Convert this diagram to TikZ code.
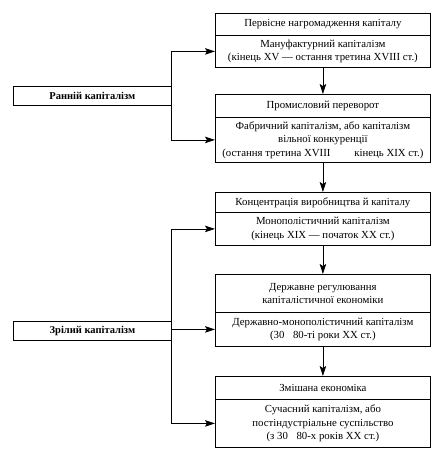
\documentclass[tikz,border=0pt]{standalone}
\usepackage{fontspec}
\setmainfont{Liberation Serif}
\usetikzlibrary{arrows.meta}
\begin{document}
\begin{tikzpicture}[x=1pt,y=-1pt,
  box/.style={draw,line width=0.8pt,minimum width=215pt,inner sep=0pt,align=center,anchor=north west,font=\fontsize{10.8}{13.5}\selectfont},
  lbox/.style={draw,line width=0.8pt,minimum width=158pt,minimum height=19pt,inner sep=0pt,anchor=north west,font=\bfseries\fontsize{10.5}{13}\selectfont},
  arr/.style={line width=0.8pt,-{Stealth[length=10pt,width=6.5pt,inset=2pt]}}]
\useasboundingbox (0,0) rectangle (433,451);
% right column
\node[box,minimum height=22pt] (B1a) at (215,13) {Первісне нагромадження капіталу};
\node[box,minimum height=32pt] (B1b) at (215,35) {Мануфактурний капіталізм\\(кінець XV — остання третина XVIII ст.)};
\node[box,minimum height=23pt] (B2a) at (215,94) {Промисловий переворот};
\node[box,minimum height=45pt] (B2b) at (215,117) {Фабричний капіталізм, або капіталізм\\вільної конкуренції\\(остання третина XVIII\hspace{2.2em}кінець XIX ст.)};
\node[box,minimum height=20pt] (B3a) at (215,192) {Концентрація виробництва й капіталу};
\node[box,minimum height=33pt] (B3b) at (215,212) {Монополістичний капіталізм\\(кінець XIX — початок XX ст.)};
\node[box,minimum height=38pt] (B4a) at (215,274) {Державне регулювання\\капіталістичної економіки};
\node[box,minimum height=34pt] (B4b) at (215,312) {Державно-монополістичний капіталізм\\(30\hspace{0.8em}80-ті роки XX ст.)};
\node[box,minimum height=23pt] (B5a) at (215,376) {Змішана економіка};
\node[box,minimum height=48pt] (B5b) at (215,399) {Сучасний капіталізм, або\\постіндустріальне суспільство\\(з 30\hspace{0.8em}80-х років XX ст.)};
% left column
\node[lbox] (R) at (13,86) {Ранній капіталізм};
\node[lbox] (Z) at (13,321) {Зрілий капіталізм};
% vertical arrows
\draw[arr] (B1b.south) -- (B2a.north);
\draw[arr] (B2b.south) -- (B3a.north);
\draw[arr] (B3b.south) -- (B4a.north);
\draw[arr] (B4b.south) -- (B5a.north);
% branches
\draw[arr] (R.east) |- (B1b.west);
\draw[arr] (R.east) |- (B2b.west);
\draw[arr] (Z.east) |- (B3b.west);
\draw[arr] (Z.east) |- (B4b.west);
\draw[arr] (Z.east) |- (B5b.west);
\end{tikzpicture}
\end{document}
